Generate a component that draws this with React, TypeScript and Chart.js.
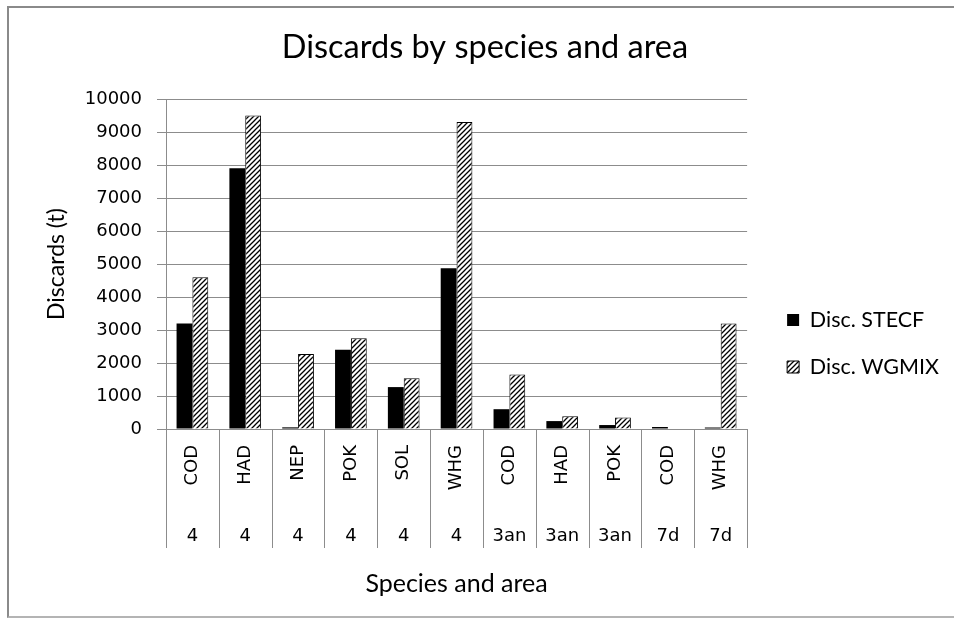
import React, { useEffect, useRef } from "react";
import { Chart, registerables } from "chart.js";

Chart.register(...registerables);

const SPECIES = ["COD", "HAD", "NEP", "POK", "SOL", "WHG", "COD", "HAD", "POK", "COD", "WHG"];
const AREAS = ["4", "4", "4", "4", "4", "4", "3an", "3an", "3an", "7d", "7d"];
const DISC_STECF = [3200, 7900, 50, 2400, 1270, 4870, 600, 240, 120, 60, 45];
const DISC_WGMIX = [4600, 9500, 2270, 2750, 1540, 9300, 1650, 390, 350, 0, 3200];
const Y_TICKS_MAX = 10000;
const Y_TICKS_STEP = 1000;

const GRID = "#8c8c8c";
const CALIBRI = "Lato, 'Open Sans', sans-serif";
const TAHOMA = "'DejaVu Sans', Verdana, sans-serif";

const PAD_LEFT = 21;
const PAD_RIGHT = 5;

function makeHatch(): CanvasPattern | string {
  const c = document.createElement("canvas");
  const s = 5;
  c.width = s;
  c.height = s;
  const g = c.getContext("2d");
  if (!g) return "#888";
  g.fillStyle = "#fff";
  g.fillRect(0, 0, s, s);
  g.strokeStyle = "#000";
  g.lineWidth = 1.3;
  g.beginPath();
  g.moveTo(-1, s + 1);
  g.lineTo(s + 1, -1);
  g.moveTo(-1, 1);
  g.lineTo(1, -1);
  g.moveTo(s - 1, s + 1);
  g.lineTo(s + 1, s - 1);
  g.stroke();
  const p = g.createPattern(c, "repeat");
  return p || "#888";
}

const separatorPlugin = {
  id: "separators",
  afterDraw(chart: any) {
    const { ctx, chartArea } = chart;
    const n = SPECIES.length;
    const w = (chartArea.right - chartArea.left) / n;
    ctx.save();
    ctx.strokeStyle = GRID;
    ctx.lineWidth = 1;
    for (let i = 0; i <= n; i++) {
      const x = Math.round(chartArea.left + i * w) + 0.5;
      ctx.beginPath();
      ctx.moveTo(x, chartArea.bottom);
      ctx.lineTo(x, 548);
      ctx.stroke();
    }
    ctx.restore();
  },
};

export default function App() {
  const ref = useRef<HTMLCanvasElement | null>(null);

  useEffect(() => {
    if (!ref.current) return;
    const hatch = makeHatch();
    const chart = new Chart(ref.current, {
      type: "bar",
      data: {
        labels: SPECIES,
        datasets: [
          {
            label: "Disc. STECF",
            data: DISC_STECF,
            backgroundColor: "#000",
            borderColor: "#000",
            borderWidth: 0,
            xAxisID: "x",
            yAxisID: "y",
          },
          {
            label: "Disc. WGMIX",
            data: DISC_WGMIX,
            backgroundColor: hatch as any,
            borderColor: "#000",
            borderWidth: 1,
            xAxisID: "x",
            yAxisID: "y",
          },
        ],
      },
      options: {
        responsive: false,
        animation: false,
        events: [],
        layout: { padding: { left: PAD_LEFT, right: PAD_RIGHT, top: 0, bottom: 0 } },
        datasets: { bar: { categoryPercentage: 0.6, barPercentage: 1.0 } },
        plugins: {
          tooltip: { enabled: false },
          title: {
            display: true,
            text: "Discards by species and area",
            color: "#000",
            font: { family: CALIBRI, size: 32.5, weight: "normal" },
            padding: { top: 28, bottom: 32 },
          },
          legend: {
            display: true,
            position: "right",
            maxWidth: 400,
            title: {
              display: true,
              text: " ",
              font: { size: 10 },
              padding: { top: 57, bottom: 0 },
            },
            labels: {
              color: "#000",
              font: { family: CALIBRI, size: 21.5 },
              boxWidth: 12,
              boxHeight: 12,
              padding: 25.5,
            },
          },
        },
        scales: {
          x: {
            type: "category",
            position: "bottom",
            labels: SPECIES,
            grid: { display: false, drawTicks: false },
            border: { display: false },
            ticks: {
              autoSkip: false,
              minRotation: 90,
              maxRotation: 90,
              padding: 16,
              color: "#000",
              font: { family: TAHOMA, size: 18 },
            },
            afterFit: (s: any) => {
              s.height = 71;
            },
          },
          area: {
            type: "category",
            position: "bottom",
            labels: AREAS,
            offset: true,
            grid: { display: false, drawTicks: false },
            border: { display: false },
            ticks: {
              autoSkip: false,
              maxRotation: 0,
              minRotation: 0,
              padding: 26,
              color: "#000",
              font: { family: TAHOMA, size: 18 },
            },
            title: {
              display: true,
              text: "Species and area",
              color: "#000",
              font: { family: CALIBRI, size: 25 },
              padding: { top: 0, bottom: 19 },
            },
            afterFit: (s: any) => {
              s.height = 118;
            },
          },
          y: {
            type: "linear",
            position: "left",
            min: 0,
            max: Y_TICKS_MAX,
            grid: { color: GRID, lineWidth: 1, tickLength: 9, drawTicks: true },
            border: { display: true, color: GRID, width: 1 },
            ticks: {
              stepSize: Y_TICKS_STEP,
              padding: 15,
              color: "#000",
              font: { family: TAHOMA, size: 18 },
              callback: (v: any) => String(v),
            },
            title: {
              display: true,
              text: "Discards (t)",
              color: "#000",
              font: { family: CALIBRI, size: 23 },
              padding: { top: 57 - PAD_LEFT - 13.8, bottom: 0 },
            },
            afterFit: (s: any) => {
              s.width = 166 - PAD_LEFT;
            },
          },
          gap: {
            type: "linear",
            position: "right",
            display: true,
            grid: { display: false, drawTicks: false },
            border: { display: false },
            ticks: { display: false },
            afterFit: (s: any) => {
              s.width = 14.5;
            },
          },
        },
      },
      plugins: [separatorPlugin],
    });
    return () => chart.destroy();
  }, []);

  return (
    <div style={{ position: "fixed", left: 0, top: 0, width: 954, height: 618, background: "#fff" }}>
      <canvas ref={ref} width={954} height={618} style={{ display: "block", width: 954, height: 618 }} />
      <div
        style={{
          position: "absolute",
          left: 7,
          top: 6,
          width: 960,
          height: 608,
          borderTop: "2px solid #8a8a8a",
          borderLeft: "2px solid #8a8a8a",
          borderBottom: "2px solid #b4b4b4",
          pointerEvents: "none",
        }}
      />
    </div>
  );
}
